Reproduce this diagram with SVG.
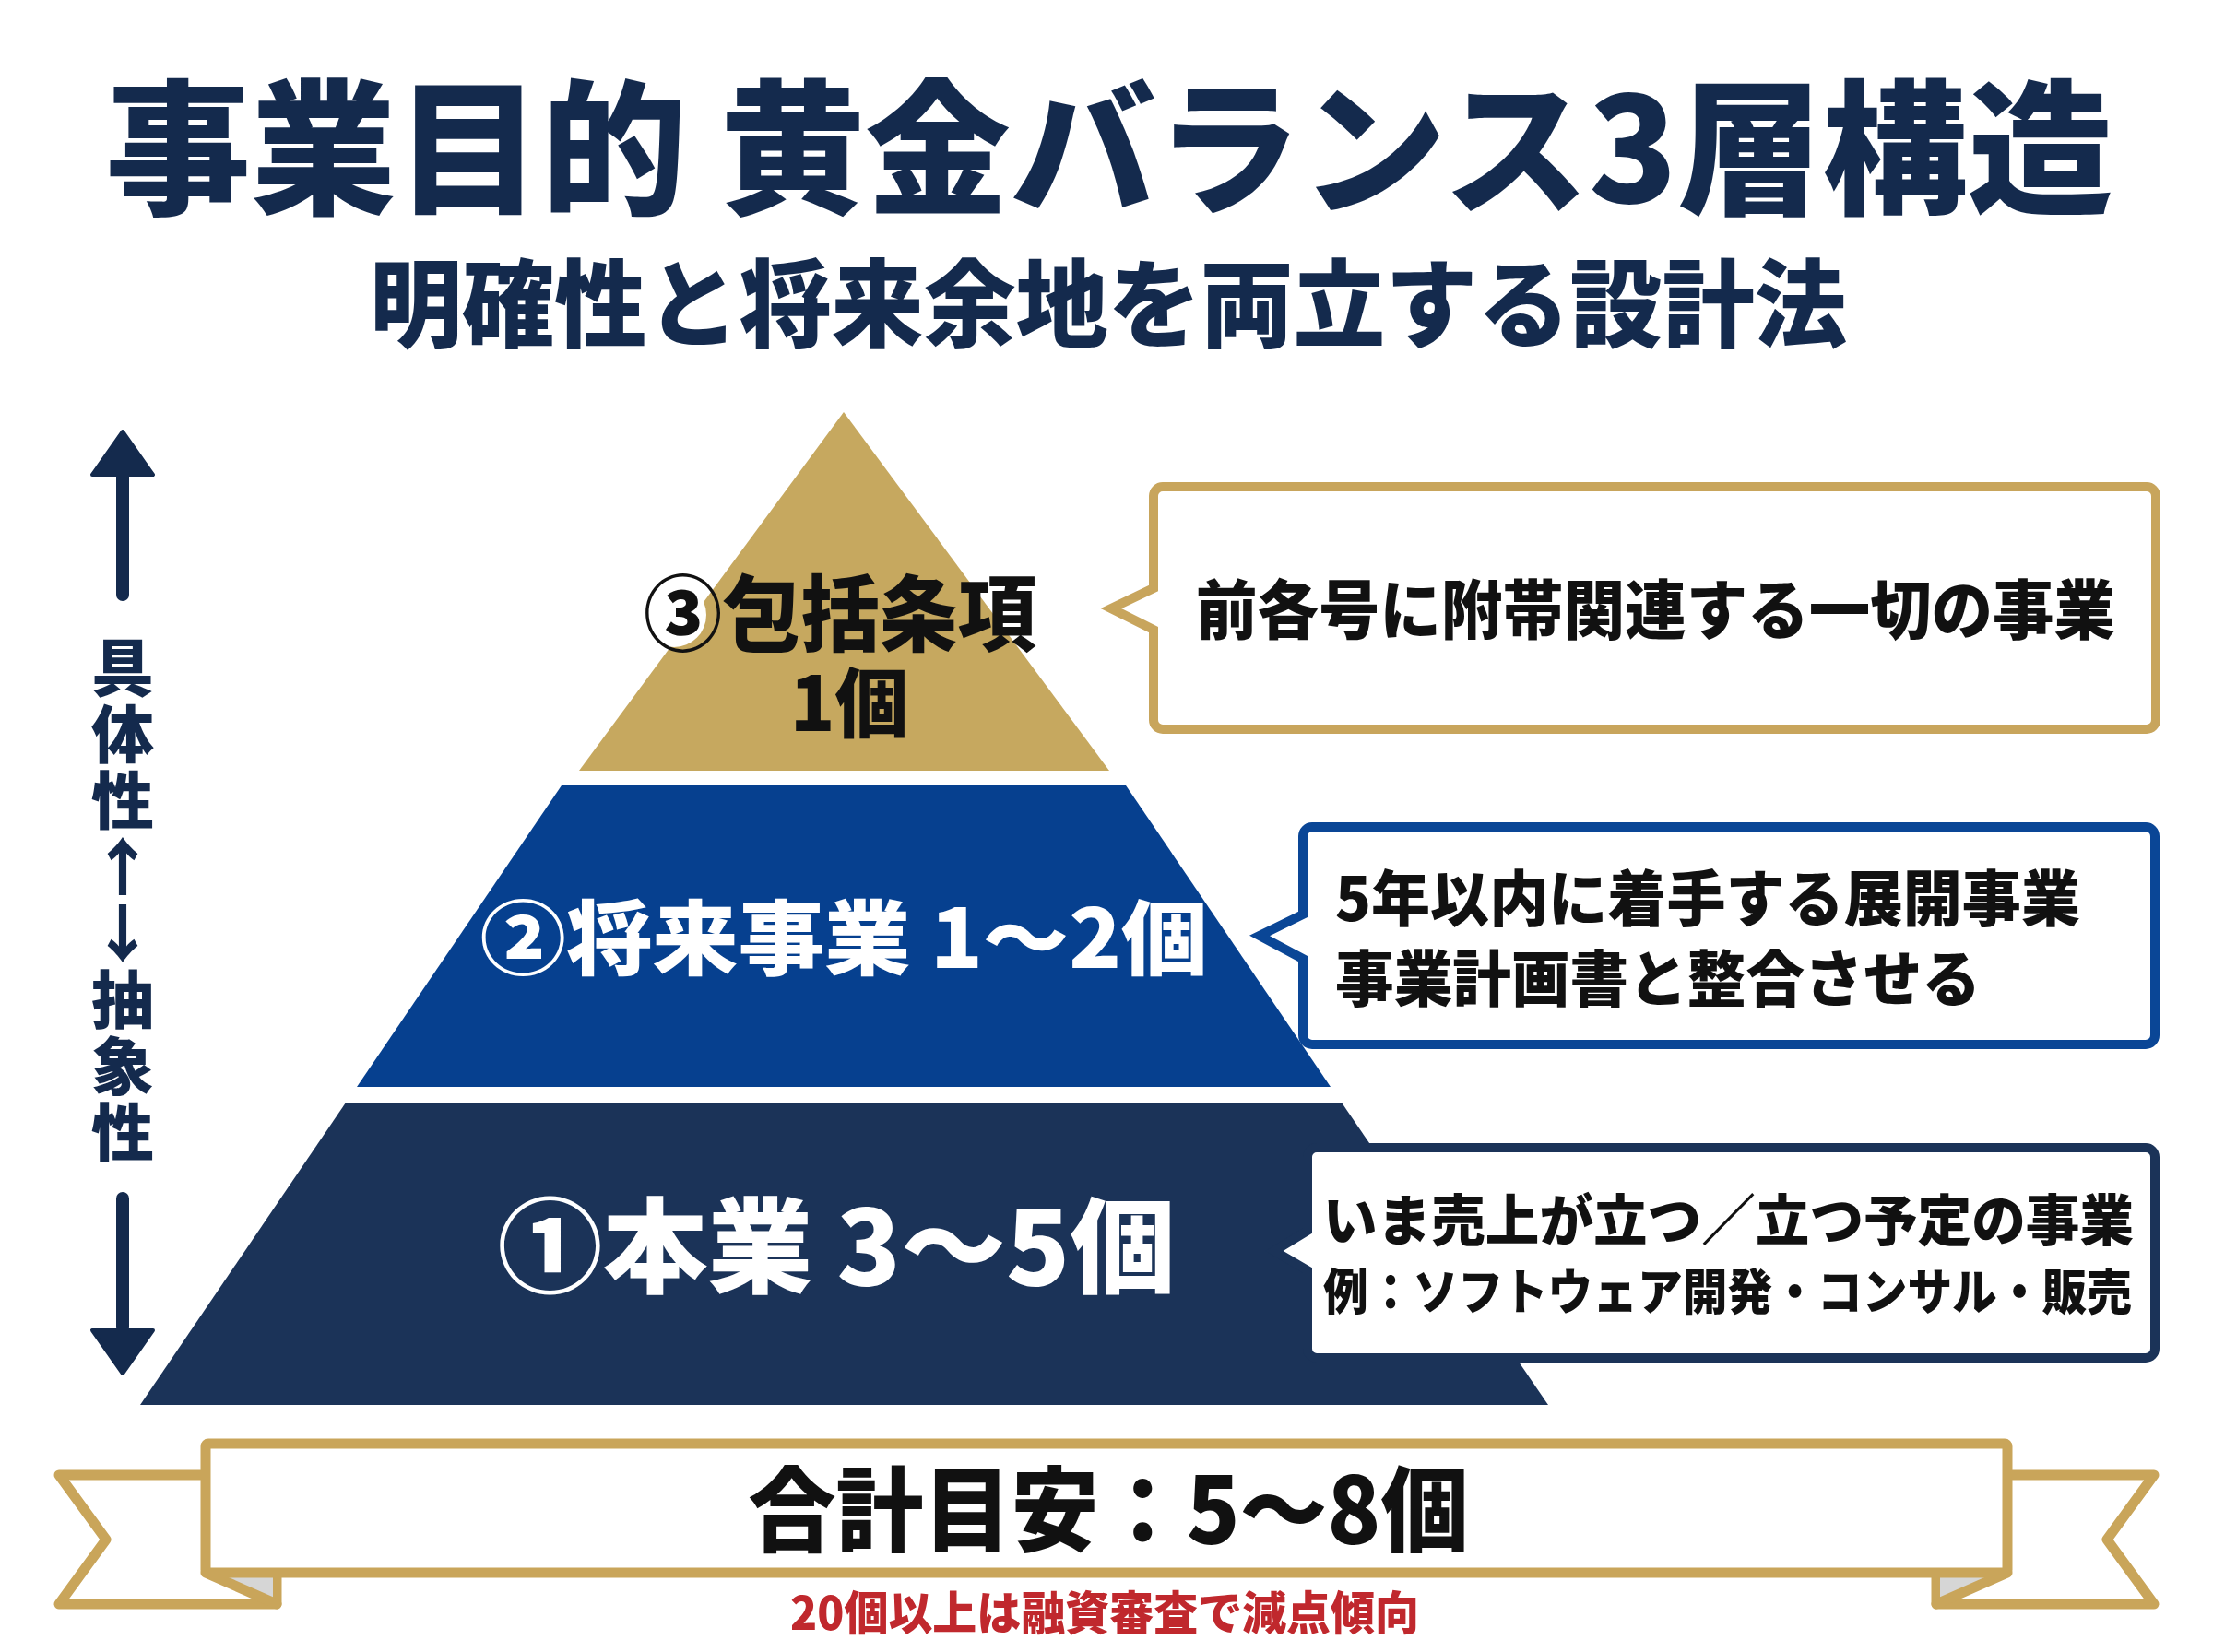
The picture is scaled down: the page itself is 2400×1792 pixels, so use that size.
<svg xmlns="http://www.w3.org/2000/svg" width="2400" height="1792" viewBox="0 0 2400 1792">
<defs>
<style>
text{font-family:"Noto Sans CJK JP","Noto Sans CJK SC",sans-serif;font-weight:900;}
.navy{fill:#142a4d;}
.blk{fill:#111111;}
.wht{fill:#ffffff;}
.mid{text-anchor:middle;}
.vert{writing-mode:vertical-rl;text-orientation:upright;}
.gold-s{fill:#ffffff;stroke:#c8a55c;stroke-width:10;stroke-linejoin:miter;}
.blue-s{fill:#ffffff;stroke:#0a4696;stroke-width:10;stroke-linejoin:miter;}
.navy-s{fill:#ffffff;stroke:#1b3358;stroke-width:10;stroke-linejoin:miter;}
.rib{fill:#ffffff;stroke:#c9a55a;stroke-width:11;stroke-linejoin:round;stroke-linecap:round;}
</style>
</defs>
<rect x="0" y="0" width="2400" height="1792" fill="#ffffff"/>

<g id="title">
<text class="navy mid" x="1203" y="220" font-size="158" textLength="2177" lengthAdjust="spacingAndGlyphs">事業目的 黄金バランス3層構造</text>
<text class="navy mid" x="1202" y="369" font-size="104" textLength="1602" lengthAdjust="spacingAndGlyphs">明確性と将来余地を両立する設計法</text>
</g>

<g id="connectors">
<rect x="126" y="508" width="14" height="144" rx="7" fill="#142a4d"/>
<polygon points="133,468 166,515 100,515" fill="#142a4d" stroke="#142a4d" stroke-width="4" stroke-linejoin="round"/>
<rect x="126" y="1293" width="14" height="154" rx="7" fill="#142a4d"/>
<polygon points="100,1443 166,1443 133,1490" fill="#142a4d" stroke="#142a4d" stroke-width="4" stroke-linejoin="round"/>
</g>

<g id="axis-label">
<text class="navy vert" x="133" y="690" font-size="68" letter-spacing="4">具体性↑↓抽象性</text>
</g>

<g id="layer3">
<polygon points="915,447 1203,836 628,836" fill="#c6a85f"/>
<circle cx="731" cy="667" r="35" fill="#ffffff"/>
<text class="blk mid" x="911" y="699" font-size="90" textLength="426" lengthAdjust="spacingAndGlyphs">③包括条項</text>
<text class="blk mid" x="921" y="793" font-size="82" textLength="128" lengthAdjust="spacingAndGlyphs">1個</text>
</g>

<g id="layer2">
<polygon points="609,852 1221,852 1443,1179 387,1179" fill="#06408f"/>
<text class="wht mid" x="915" y="1050" font-size="88" textLength="789" lengthAdjust="spacingAndGlyphs">②将来事業 1〜2個</text>
</g>

<g id="layer1">
<polygon points="375,1196 1455,1196 1679,1524 152,1524" fill="#1b3358"/>
<text class="wht mid" x="907" y="1394" font-size="112" textLength="735" lengthAdjust="spacingAndGlyphs">①本業 3〜5個</text>
</g>

<g id="callout3">
<path class="gold-s" d="M1251,538 A10,10 0 0 1 1261,528 H2328 A10,10 0 0 1 2338,538 V781 A10,10 0 0 1 2328,791 H1261 A10,10 0 0 1 1251,781 V683 L1205,660 L1251,638 Z"/>
<text class="blk" x="1297" y="688" font-size="70" textLength="997" lengthAdjust="spacingAndGlyphs">前各号に附帯関連する一切の事業</text>
</g>

<g id="callout2">
<path class="blue-s" d="M1413,907 A10,10 0 0 1 1423,897 H2327 A10,10 0 0 1 2337,907 V1123 A10,10 0 0 1 2327,1133 H1423 A10,10 0 0 1 1413,1123 V1040 L1366,1015 L1413,992 Z"/>
<text class="blk" x="1448" y="999" font-size="66" textLength="808" lengthAdjust="spacingAndGlyphs">5年以内に着手する展開事業</text>
<text class="blk" x="1448" y="1086" font-size="66" textLength="700" lengthAdjust="spacingAndGlyphs">事業計画書と整合させる</text>
</g>

<g id="callout1">
<path class="navy-s" d="M1418,1255 A10,10 0 0 1 1428,1245 H2327 A10,10 0 0 1 2337,1255 V1463 A10,10 0 0 1 2327,1473 H1428 A10,10 0 0 1 1418,1463 V1378 L1382,1357 L1418,1335 Z"/>
<text class="blk" x="1435" y="1346" font-size="60" textLength="879" lengthAdjust="spacingAndGlyphs">いま売上が立つ／立つ予定の事業</text>
<text class="blk" x="1435" y="1421" font-size="53" textLength="877" lengthAdjust="spacingAndGlyphs">例：ソフトウェア開発・コンサル・販売</text>
</g>

<g id="banner">
<path class="rib" d="M223,1600 L64,1600 L115,1670 L64,1740 L300,1740 L300,1706"/>
<path class="rib" d="M2177,1600 L2336,1600 L2285,1670 L2336,1740 L2100,1740 L2100,1706"/>
<polygon points="232,1711 296,1711 296,1734" fill="#d6d6d6"/>
<polygon points="2168,1711 2104,1711 2104,1734" fill="#d6d6d6"/>
<path d="M223,1706 L300,1740 M2177,1706 L2100,1740" fill="none" stroke="#c9a55a" stroke-width="11" stroke-linecap="round"/>
<rect class="rib" x="223" y="1566" width="1954" height="140" rx="3"/>
<text class="blk mid" x="1202" y="1675" font-size="100" textLength="781" lengthAdjust="spacingAndGlyphs">合計目安：5〜8個</text>
<text class="mid" x="1198" y="1768" font-size="50" fill="#c0282d" textLength="682" lengthAdjust="spacingAndGlyphs">20個以上は融資審査で減点傾向</text>
</g>
</svg>
